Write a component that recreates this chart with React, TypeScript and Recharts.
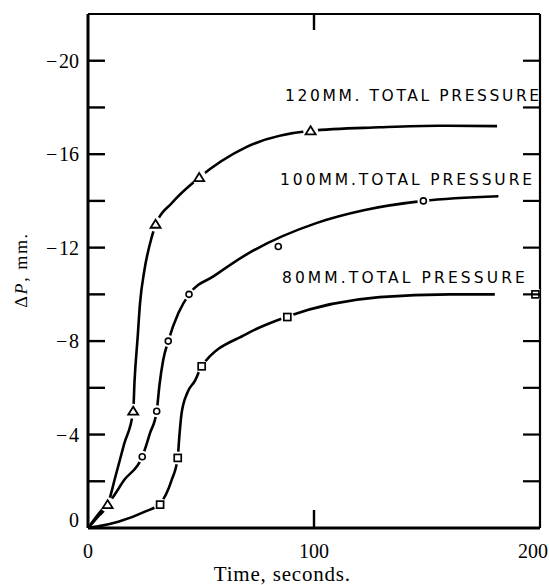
import React from 'react';
import { ComposedChart, Line, Scatter, XAxis, YAxis, ReferenceDot } from 'recharts';

// Smooth curves (time s, ΔP mm)
const curve120 = [
  { t: 0, p: 0 }, { t: 4.5, p: -0.5 }, { t: 8.7, p: -1 }, { t: 12, p: -2.15 }, { t: 16, p: -3.6 },
  { t: 20, p: -5 }, { t: 20.6, p: -6.3 }, { t: 22, p: -8.2 }, { t: 23, p: -9.6 }, { t: 24.9, p: -11 },
  { t: 28.2, p: -12.45 }, { t: 30, p: -13 }, { t: 37, p: -13.9 }, { t: 49.2, p: -15 },
  { t: 70, p: -16.3 }, { t: 98.5, p: -17 }, { t: 129, p: -17.15 }, { t: 155, p: -17.22 }, { t: 181, p: -17.2 },
];
const curve100 = [
  { t: 0, p: 0 }, { t: 4.6, p: -0.6 }, { t: 10.5, p: -1.25 }, { t: 16, p: -2.05 }, { t: 24, p: -3.05 },
  { t: 27.4, p: -4.05 }, { t: 30.4, p: -5 }, { t: 31.6, p: -6.1 }, { t: 33.3, p: -7.2 }, { t: 35.5, p: -8 },
  { t: 40, p: -9.2 }, { t: 44.7, p: -10 }, { t: 56, p: -10.8 }, { t: 70, p: -11.7 }, { t: 101, p: -13.05 },
  { t: 122, p: -13.6 }, { t: 148.4, p: -14 }, { t: 181.6, p: -14.2 },
];
const curve80 = [
  { t: 0, p: 0 }, { t: 5, p: -0.08 }, { t: 13.4, p: -0.27 }, { t: 25.2, p: -0.7 }, { t: 31.9, p: -1.05 },
  { t: 37, p: -2.05 }, { t: 39.7, p: -3 }, { t: 40.4, p: -3.9 }, { t: 41.4, p: -4.9 }, { t: 44, p: -5.8 },
  { t: 47.3, p: -6.3 }, { t: 50.3, p: -6.92 }, { t: 70, p: -8.3 }, { t: 88.2, p: -9.05 }, { t: 129, p: -9.88 },
  { t: 160, p: -10 }, { t: 180, p: -10 },
];

// Measured points
const points120 = [
  { t: 8.7, p: -1 }, { t: 20, p: -5 }, { t: 29.9, p: -13 }, { t: 49.2, p: -15 }, { t: 98.5, p: -17 },
];
const points100 = [
  { t: 24, p: -3.05 }, { t: 30.4, p: -5 }, { t: 35.5, p: -8 }, { t: 44.7, p: -10 }, { t: 84.2, p: -12.05 }, { t: 148.4, p: -14 },
];
const points80 = [
  { t: 31.9, p: -1 }, { t: 39.7, p: -3 }, { t: 50.3, p: -6.92 }, { t: 88.2, p: -9.03 }, { t: 198, p: -10 },
];

const xTicks = [0, 100, 200];
const yTicks = [-20, -18, -16, -14, -12, -10, -8, -6, -4, -2, 0];
const yLabelTicks = [-20, -16, -12, -8, -4, 0];

const labelTexts = ['120MM. TOTAL PRESSURE', '100MM.TOTAL PRESSURE', '80MM.TOTAL PRESSURE'];
const labelT = [87.2, 85, 85.8];
const labelP = [-18.29, -14.66, -10.47];
const labelWidths = [254, 252, 243];

const SERIF = 'Liberation Serif';
const SANS = 'DejaVu Sans';

const serifStyle = { fontFamily: SERIF, fill: '#000' };

const LeftTick = (props: any) => {
  const { x, y, payload } = props;
  const v = payload.value;
  const showLabel = yLabelTicks.includes(v);
  const txt = v === 0 ? '0' : '\u2212\u200A' + Math.abs(v);
  return (
    <g>
      {v !== 0 && <line x1={x} y1={y} x2={x + 17} y2={y} stroke="#000" strokeWidth={2.4} />}
      {showLabel && (
        <text x={x - 9} y={v === 0 ? y - 8 : y} textAnchor="end" dominantBaseline="central"
          fontFamily={SERIF} style={serifStyle} fontSize={20} fill="#000">{txt}</text>
      )}
    </g>
  );
};

const RightTick = (props: any) => {
  const { x, y, payload } = props;
  if (payload.value === 0) return <g />;
  return <line x1={x} y1={y} x2={x - 17} y2={y} stroke="#000" strokeWidth={2.2} />;
};

const BottomTick = (props: any) => {
  const { x, y, payload } = props;
  const v = payload.value;
  return (
    <g>
      {v === 100 && <line x1={x} y1={y} x2={x} y2={y - 18} stroke="#000" strokeWidth={2.4} />}
      <text x={v === 200 ? x - 7 : x} y={y + 30} textAnchor="middle" fontFamily={SERIF} style={serifStyle} fontSize={20} fill="#000">{v}</text>
    </g>
  );
};

const TopTick = (props: any) => {
  const { x, y, payload } = props;
  if (payload.value !== 100) return <g />;
  return <line x1={x} y1={y} x2={x} y2={y + 16} stroke="#000" strokeWidth={2.4} />;
};

const Tri = (props: any) => {
  const { cx, cy } = props;
  return (
    <g>
      <circle cx={cx} cy={cy} r={7.5} fill="#fff" />
      <polygon points={`${cx},${cy - 4.5} ${cx - 5},${cy + 3.5} ${cx + 5},${cy + 3.5}`} fill="#fff" stroke="#000" strokeWidth={1.8} />
    </g>
  );
};
const Circ = (props: any) => {
  const { cx, cy } = props;
  return (
    <g>
      <circle cx={cx} cy={cy} r={6} fill="#fff" />
      <circle cx={cx} cy={cy} r={3} fill="#fff" stroke="#000" strokeWidth={1.6} />
    </g>
  );
};
const Sq = (props: any) => {
  const { cx, cy } = props;
  return (
    <g>
      <circle cx={cx} cy={cy} r={6.5} fill="#fff" />
      <rect x={cx - 3.5} y={cy - 3.5} width={7} height={7} fill="#fff" stroke="#000" strokeWidth={1.7} />
    </g>
  );
};

export default function App() {
  return (
    <div style={{ position: 'absolute', left: 0, top: 0, width: 549, height: 585, background: '#fff' }}>
      <ComposedChart width={549} height={585} margin={{ top: 13, right: 8, bottom: 0, left: 0 }}>
        <XAxis xAxisId="b" dataKey="t" type="number" domain={[0, 200]} ticks={xTicks} height={57}
          tickSize={0} tickMargin={0} tickLine={false} axisLine={{ stroke: '#000', strokeWidth: 3 }}
          tick={<BottomTick />} allowDataOverflow interval={0}
          label={{
            content: (p: any) => {
              const vb = p.viewBox || { x: 88, width: 452 };
              return (
                <text x={vb.x + vb.width * 0.43} y={581} textAnchor="middle" fontFamily={SERIF} style={serifStyle} fontSize={21}
                  letterSpacing={0.8} fill="#000">Time, seconds.</text>
              );
            },
          }} />
        <XAxis xAxisId="top" orientation="top" dataKey="t" type="number" domain={[0, 200]} ticks={xTicks} height={1}
          tickSize={0} tickMargin={0} tickLine={false} axisLine={{ stroke: '#000', strokeWidth: 2.2 }}
          tick={<TopTick />} allowDataOverflow interval={0} />
        <YAxis yAxisId="l" type="number" domain={[-22, 0]} reversed ticks={yTicks} width={88}
          tickSize={0} tickMargin={0} tickLine={false} axisLine={{ stroke: '#000', strokeWidth: 3 }}
          tick={<LeftTick />} interval={0} allowDataOverflow
          label={{
            content: () => (
              <g transform="translate(27,270) rotate(-90)">
                <text x={0} y={0} textAnchor="middle" fontFamily={SERIF} style={serifStyle} fontSize={18}
                  fill="#000" stroke="none" letterSpacing={1.6} textRendering="geometricPrecision">
                  Δ<tspan fontStyle="italic" fill="#000">P</tspan>, mm.
                </text>
              </g>
            ),
          }} />
        <YAxis yAxisId="r" orientation="right" type="number" domain={[-22, 0]} reversed ticks={yTicks} width={1}
          tickSize={0} tickMargin={0} tickLine={false} axisLine={{ stroke: '#000', strokeWidth: 2.2 }}
          tick={<RightTick />} interval={0} allowDataOverflow />

        <Line xAxisId="b" yAxisId="l" data={curve120} dataKey="p" type="monotone" stroke="#000" strokeWidth={2.6}
          dot={false} activeDot={false} isAnimationActive={false} />
        <Line xAxisId="b" yAxisId="l" data={curve100} dataKey="p" type="monotone" stroke="#000" strokeWidth={2.6}
          dot={false} activeDot={false} isAnimationActive={false} />
        <Line xAxisId="b" yAxisId="l" data={curve80} dataKey="p" type="monotone" stroke="#000" strokeWidth={2.6}
          dot={false} activeDot={false} isAnimationActive={false} />

        <Scatter xAxisId="b" yAxisId="l" data={points120} dataKey="p" shape={<Tri />} isAnimationActive={false} />
        <Scatter xAxisId="b" yAxisId="l" data={points100} dataKey="p" shape={<Circ />} isAnimationActive={false} />
        <Scatter xAxisId="b" yAxisId="l" data={points80} dataKey="p" shape={<Sq />} isAnimationActive={false} />

        {labelTexts.map((txt, i) => (
          <ReferenceDot key={txt} xAxisId="b" yAxisId="l" x={labelT[i]} y={labelP[i]} r={0} ifOverflow="visible"
            shape={(p: any) => (
              <text x={p.cx} y={p.cy} fontFamily={SANS} style={{ fontFamily: SANS }} fontSize={15.5} fill="#000"
                textLength={labelWidths[i]} lengthAdjust="spacing">{txt}</text>
            )} />
        ))}
      </ComposedChart>
    </div>
  );
}
